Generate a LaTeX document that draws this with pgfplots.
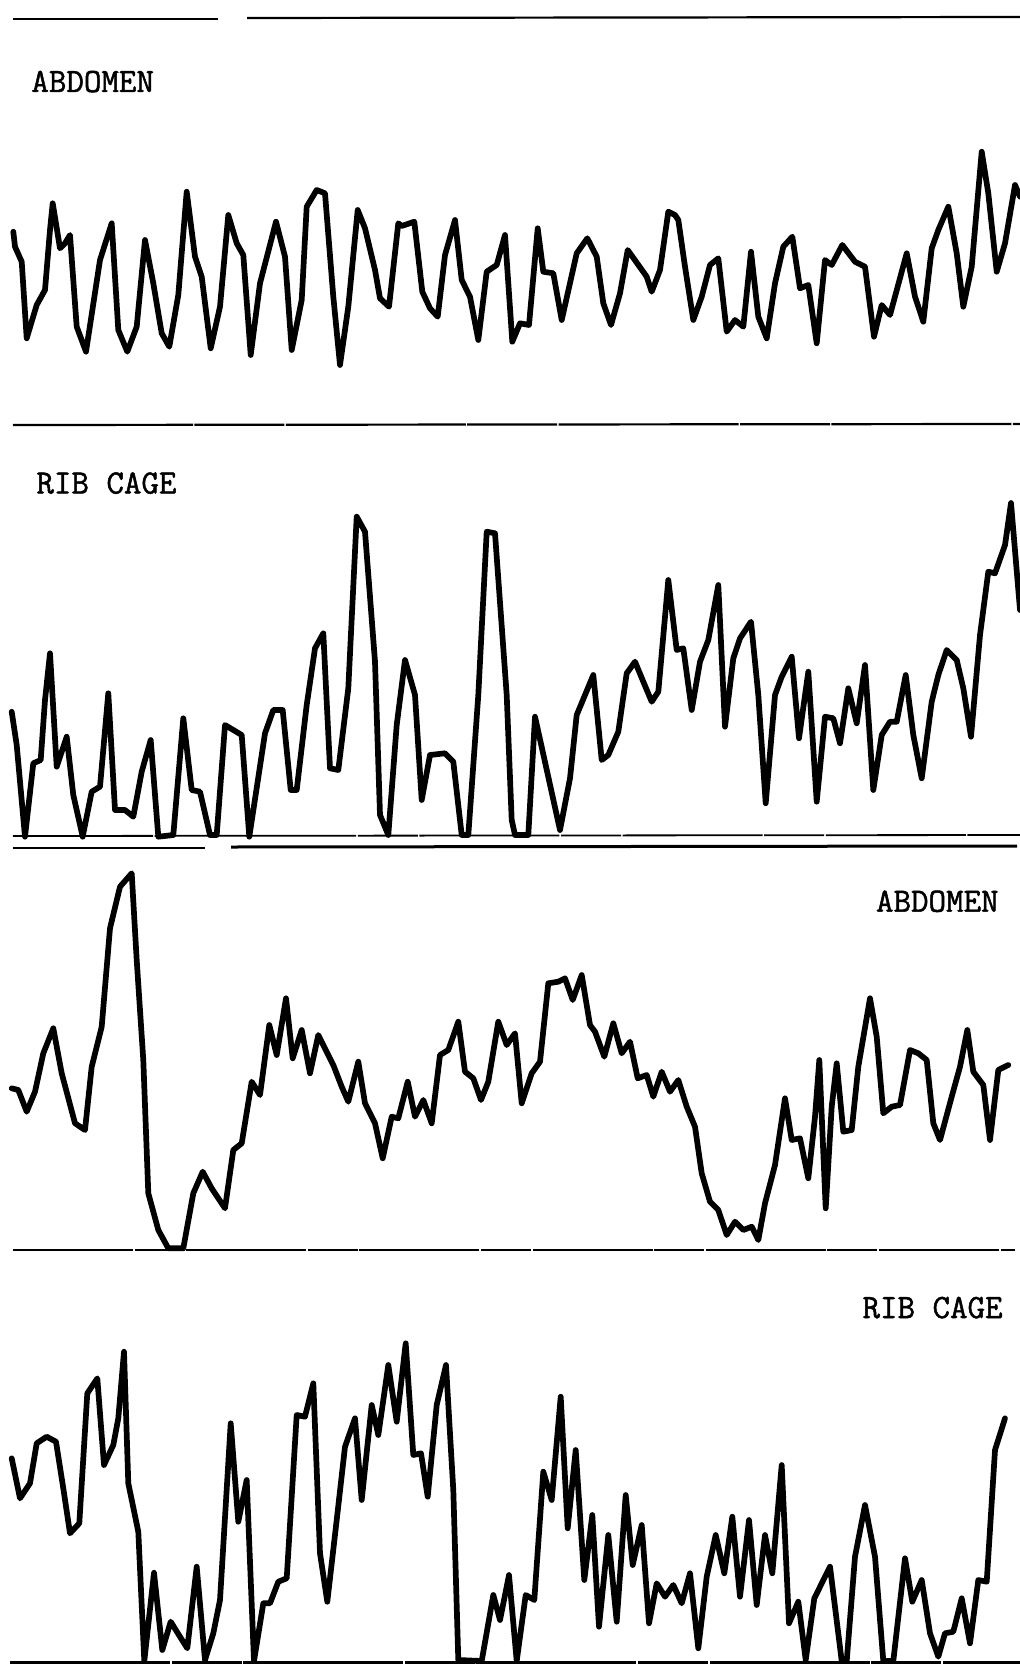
\documentclass[border=0pt]{standalone}
\usepackage{fontspec}
\newfontfamily\typew{Latin Modern Mono}[FakeBold=1.4]
\usepackage{pgfplots}
\pgfplotsset{compat=1.18}
\tikzset{
  trace/.style={line width=2.85pt},
  rule/.style={line width=1.1pt, line cap=butt},
  lbl/.style={font=\fontsize{17}{19}\selectfont\typew, inner sep=0pt},
}
\begin{document}
\begin{tikzpicture}
\begin{axis}[
  width=510pt, height=832pt, scale only axis,
  xmin=0, xmax=1020, ymin=0, ymax=1664, y dir=reverse,
  hide axis, clip=false,
  every axis plot/.append style={black, line join=round, line cap=round},
]
% ---------- horizontal rules ----------
\addplot[rule] coordinates {(13,19) (218,19)};
\addplot[rule] coordinates {(247,18) (1020,17)};
\addplot[rule, dash pattern=on 90pt off 0.7pt on 45pt off 0.7pt] coordinates {(13,425) (1020,424)};
\addplot[rule, line width=0.9pt, dash pattern=on 70pt off 0.8pt on 30pt off 0.8pt] coordinates {(13,836) (1020,835)};
\addplot[rule, line width=1.4pt] coordinates {(13,848) (205,848)};
\addplot[rule, line width=1.5pt] coordinates {(231,847) (1017,846)};
\addplot[rule, line width=1.0pt, dash pattern=on 60pt off 0.8pt on 25pt off 0.8pt] coordinates {(13,1250) (1015,1250)};
\addplot[rule, line width=1.2pt, dash pattern=on 80pt off 0.8pt on 35pt off 0.8pt] coordinates {(10,1662.5) (1020,1662.5)};
% ---------- trace 1 : ABDOMEN ----------
\addplot[trace] coordinates {
(13.3,231.7) (15,246.7) (21.7,261.7) (26.7,338.3) (36.7,305) (45,290) (50,230) (52.7,203.3) (60,248.3) (65,243.3) (70,235) (76.7,326.7) (86,351.7) (100,260) (111.7,223.3) (118.3,330) (127.3,351.7) (136.7,326.7) (145,240) (153.3,283.3) (161.7,333.3) (169.3,346.7) (178.3,295) (186.7,191.7) (195,256.7) (201.7,276.7) (210.7,348.3) (220,306.7) (228.3,215) (236.7,243.3) (243.3,255) (250.7,355) (260,283.3) (276,221.7) (285,256.7) (291.7,350) (301.7,300) (306.7,206.7) (316.7,190) (325,193.3) (333.3,296.7) (340,365) (348.3,306.7) (357.7,210) (365,228.3) (375,270) (380,298.3) (389,306.7) (398.3,223.3) (401.7,226) (414.3,221.7) (422.3,291.7) (430,308.3) (437.7,316.7) (445,255) (455,220) (461.7,280) (470,296.7) (478.3,340) (486.7,271.7) (496.7,265) (505,235) (512.3,341.7) (520,323.3) (529,325) (537.7,228.3) (543.3,271.7) (553.3,273.3) (561.7,320) (576.7,253.3) (587.3,238.3) (596.7,256.7) (603.3,303.3) (611,325) (620,293.3) (627.7,250) (646.7,276.7) (651.7,291.7) (660,270) (668.3,211.7) (675,215) (678.3,220) (685,266.7) (693.3,320) (701.7,296.7) (710,265) (718.3,258.3) (726.7,331.7) (735,320) (743.3,326.7) (751,251.7) (758.3,316.7) (766.7,338.3) (775,283.3) (783.3,246.7) (792.3,236.7) (800,288.3) (808.3,285) (816.7,343.3) (825,260) (831.7,265) (842.3,245) (855,261.7) (865,266.7) (874,336.7) (881.7,305) (890,315) (906.7,253.3) (915,296.7) (923.3,321.7) (931.7,248.3) (938.3,230) (948.3,206.7) (956.7,253.3) (963.3,306.7) (971.7,266.7) (981.7,151.7) (988.3,193.3) (996.7,271.7) (1005,243.3) (1015,185) (1020,196.7)
};
% ---------- trace 2 : RIB CAGE ----------
\addplot[trace] coordinates {
(11.7,711.7) (16.7,745) (25,836.7) (33.3,763.3) (40.7,760) (45,700) (50,653.3) (56.7,766.7) (66.7,736.7) (73.3,795) (82.7,836.7) (91.7,791.7) (100,786.7) (108.3,693.3) (115,810) (125,810) (133.3,816.7) (141.7,771.7) (150.7,740) (158.3,836.7) (173.3,835) (183.3,718.3) (191.7,790) (200,791.7) (210,835) (216.7,835) (225,725) (233.3,730) (241.7,735) (249.3,836.7) (265,733.3) (273.3,710) (282.7,710) (290.7,790) (296.7,790) (306.7,705) (315,648.3) (323.3,633.3) (330,768.3) (338.3,770) (348.3,688.3) (356.7,516.7) (365,531.7) (375,661.7) (380,815) (388.3,835) (396.7,725) (405,660) (415,695) (421.7,800) (430,755) (445,753.3) (453.3,761.7) (461.7,835) (468.3,835) (478.3,695) (486.7,531.7) (495,533.3) (506.7,695) (511.7,820) (515,835) (528.3,835) (535,716.7) (560,830) (570,778.3) (576.7,715) (593.3,675) (601.7,760) (608.3,755) (618.3,731.7) (626.7,673.3) (635,661.7) (643.3,681.7) (651.7,701.7) (658.3,691.7) (668.3,580) (676.7,650) (683.3,648.3) (691.7,710) (700,661.7) (708.3,640) (718.3,585) (725,726.7) (733.3,658.3) (740,638.3) (751,621.7) (758.3,695) (765.7,803.3) (775,695) (781.7,676.7) (791.7,656.7) (799,738.3) (808.3,671.7) (816.7,801.7) (825,716.7) (833.3,718.3) (840,743.3) (848.3,688.3) (856.7,723.3) (865,665) (873.3,790) (881.7,735) (890,721.7) (896.7,721.7) (905.7,675) (913.3,735) (921.7,778.3) (931.7,701.7) (938.3,675) (946.7,650) (956.7,660) (963.3,688.3) (971,736.7) (980,635) (988.3,571.7) (995,573.3) (1005,545) (1011,503) (1020,610)
};
% ---------- trace 3 : ABDOMEN ----------
\addplot[trace] coordinates {
(11.7,1088.3) (18.3,1090) (26.7,1111.7) (35,1091.7) (43.3,1053.3) (53.3,1028.3) (61.7,1073.3) (75,1123.3) (85,1130) (91.7,1066.7) (101.7,1026.7) (110,928.3) (120,886.7) (131.7,873.3) (136.7,960) (143.3,1060) (148.3,1193.3) (158.3,1230) (168.3,1248.3) (183.3,1248.3) (193.3,1193.3) (202.7,1171.7) (211.7,1188.3) (225,1208.3) (233.3,1150) (241.7,1143.3) (251.7,1081.7) (260,1095) (269.3,1025) (276.7,1055) (286,998.3) (292.7,1058.3) (301.7,1030) (310,1073.3) (318.3,1035) (333.3,1065) (341.7,1086.7) (348.3,1101.7) (358.3,1061.7) (365,1103.3) (375,1123.3) (382.7,1158.3) (391.7,1116.7) (398.3,1118.3) (407.7,1081.7) (415,1116.7) (423.3,1100) (431.7,1123.3) (440,1055) (448.3,1050) (458.3,1021.7) (465,1071.7) (473.3,1078.3) (481,1100) (488.3,1081.7) (498.3,1021.7) (506.7,1045) (515,1033.3) (521.7,1103.3) (531.7,1073.3) (540,1061.7) (548.3,983.3) (558.3,981.7) (565,978.3) (572.7,1000) (581.7,975) (590,1025) (595,1031.7) (604.3,1056.7) (613.3,1023.3) (621.7,1053.3) (630,1041.7) (637.7,1078.3) (646.7,1075) (653.3,1096.7) (661.7,1071.7) (670,1091.7) (678.3,1080) (686.7,1106.7) (695,1126.7) (701.7,1173.3) (710,1201.7) (718.3,1210) (726.7,1235) (735,1221.7) (743.3,1230) (751.7,1226.7) (758.3,1240) (765,1203.3) (775,1165) (785,1098.3) (791.7,1140) (800,1138.3) (808.3,1178.3) (815,1116.7) (819.3,1060) (825.7,1208.3) (831.7,1106.7) (836.7,1063.3) (843.3,1131.7) (851.7,1130) (858.3,1066.7) (870,998.3) (876.7,1036.7) (883.3,1113.3) (891.7,1106.7) (900,1105) (910,1050) (918.3,1053.3) (926.7,1060) (933.3,1123.3) (940,1140) (951.7,1096.7) (960,1066.7) (967.3,1030) (973.3,1071.7) (983.3,1085) (990,1140) (998.3,1070) (1008.3,1065)
};
% ---------- trace 4 : RIB CAGE ----------
\addplot[trace] coordinates {
(11.7,1458.3) (20,1498.3) (30,1483.3) (36.7,1443.3) (46.7,1436.7) (56,1441.7) (63.3,1488.3) (70,1533.3) (79.3,1523.3) (87.3,1393.3) (97.3,1378.3) (104,1465) (113.3,1445) (118.3,1418.3) (124,1351.7) (128.3,1483.3) (138.3,1531.7) (144.3,1661) (154,1572.7) (162.3,1650) (170.7,1621.7) (180,1636.7) (187.3,1648.3) (196.7,1566.7) (205,1660) (213.3,1633.3) (220,1600) (230.7,1423.3) (238.3,1521.7) (246.7,1480) (254,1661) (263.3,1603.3) (270,1603.3) (278.3,1581.7) (286.7,1578.3) (296.7,1415) (305,1416.7) (313.3,1383.3) (320,1553.3) (327.3,1601.7) (336.7,1520) (345,1446.7) (355,1418.3) (361.7,1500) (371.7,1405) (378.3,1435) (388.3,1365) (396.7,1421.7) (405.7,1343.3) (413.3,1455) (421,1453.3) (427.7,1496.7) (436.7,1405) (446,1365) (453.3,1490) (458.3,1660) (481.7,1661) (493.3,1595) (500,1620) (509,1575) (516.7,1661) (525.7,1595) (534.3,1600) (543.3,1471.7) (551.7,1500) (560.7,1396.7) (567.7,1528.3) (575.7,1450) (584.3,1580) (592.3,1515) (599,1626.7) (608.3,1535) (616.7,1621.7) (625.7,1495) (632.7,1565) (641.7,1525) (649,1623.3) (656.7,1583.3) (665,1596.7) (673.3,1585) (681.7,1603.3) (690,1573.3) (698.3,1648.3) (706.7,1576.7) (715.7,1535) (724.3,1573.3) (732.3,1516.7) (740,1596.7) (749,1520) (756.7,1605) (765,1535) (772.3,1573.3) (781.7,1465) (789,1623.3) (798.3,1601.7) (805.7,1660) (814.3,1598.3) (830,1566.7) (841.7,1661) (846.7,1661) (855,1556.7) (865,1505) (875,1556.7) (883.3,1661) (893.3,1661) (905,1558.3) (912.3,1601.7) (921.7,1580) (930,1633.3) (938.3,1656.7) (945,1633.3) (953.3,1631.7) (961.7,1598.3) (970,1643.3) (978.3,1580) (986.7,1581.7) (995,1450) (1005,1418.3)
};
% ---------- labels ----------
\node[lbl, anchor=base west] at (axis cs:31,92) {ABDOMEN};
\node[lbl, anchor=base west] at (axis cs:36,493.5) {RIB CAGE};
\node[lbl, anchor=base east] at (axis cs:999,911.7) {ABDOMEN};
\node[lbl, anchor=base east] at (axis cs:1003,1318) {RIB CAGE};
\end{axis}
\pgfresetboundingbox
\path (current axis.south west) rectangle (current axis.north east);
\end{tikzpicture}
\end{document}
